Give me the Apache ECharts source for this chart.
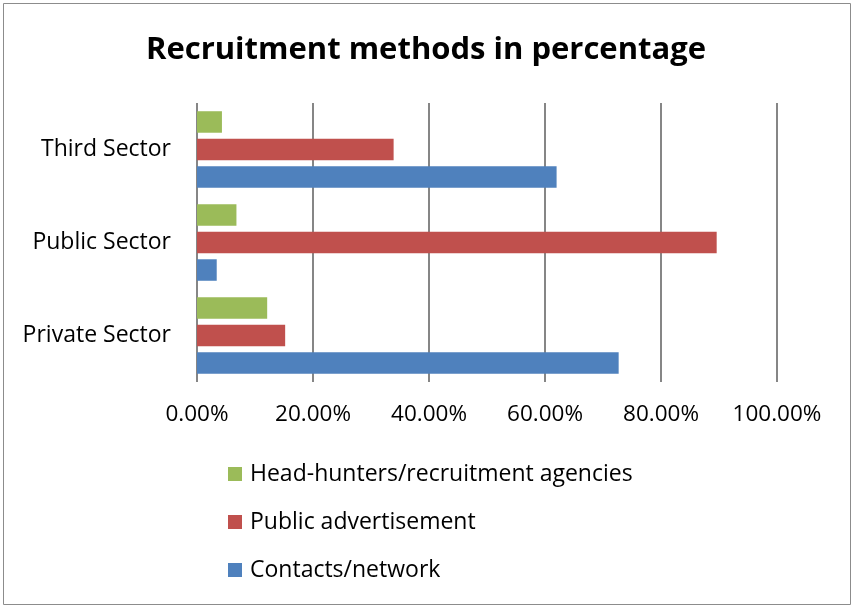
<!DOCTYPE html>
<html>
<head>
<meta charset="utf-8">
<script src="https://cdn.jsdelivr.net/npm/echarts@6/dist/echarts.min.js"></script>
<style>
  html, body { margin: 0; padding: 0; background: #fff; }
  #chart { width: 852px; height: 606px; }
</style>
</head>
<body>
<div id="chart"></div>
<script>
// Sectors, bottom to top on the category axis
const sectors = ['Private Sector', 'Public Sector', 'Third Sector'];

// Share of each recruitment method, in percent
const contactsNetwork = [72.7, 3.4, 62.0];
const publicAdvertisement = [15.2, 89.6, 33.9];
const headHunters = [12.1, 6.8, 4.3];

const seriesNames = [
  'Head-hunters/recruitment agencies',
  'Public advertisement',
  'Contacts/network'
];

const xTicks = { min: 0, max: 100, interval: 20 };

const fontFamily = '"Open Sans", sans-serif';

const chart = echarts.init(document.getElementById('chart'), null, { renderer: 'canvas' });

chart.setOption({
  backgroundColor: '#ffffff',
  animation: false,
  title: {
    text: 'Recruitment methods in percentage',
    left: 'center',
    top: 30,
    textStyle: { fontFamily, fontWeight: 'bold', fontSize: 31, color: '#000' }
  },
  graphic: [{
    type: 'rect',
    shape: { x: 3.5, y: 3.5, width: 847, height: 601 },
    style: { fill: 'none', stroke: '#8c8c8c', lineWidth: 1 },
    silent: true
  }],
  grid: { left: 197, right: 75, top: 103, bottom: 224, containLabel: false },
  xAxis: {
    type: 'value',
    min: xTicks.min,
    max: xTicks.max,
    interval: xTicks.interval,
    axisLine: { show: false },
    axisTick: { show: false },
    splitLine: { show: true, lineStyle: { color: '#868686', width: 2 } },
    axisLabel: {
      margin: 21,
      fontFamily,
      fontSize: 22.5,
      color: '#000',
      formatter: v => v.toFixed(2) + '%'
    }
  },
  yAxis: {
    type: 'category',
    data: sectors,
    axisLine: { show: false },
    axisTick: { show: false },
    axisLabel: { margin: 26, fontFamily, fontSize: 23, color: '#000' }
  },
  legend: {
    orient: 'vertical',
    left: 228,
    top: 461,
    padding: 0,
    itemWidth: 14,
    itemHeight: 14,
    itemGap: 22,
    icon: 'rect',
    data: seriesNames,
    textStyle: { fontFamily, fontSize: 23, color: '#000', lineHeight: 26, padding: [0, 0, 0, 3] }
  },
  // Within each sector the first series sits on top
  series: [
    {
      name: seriesNames[0], type: 'bar', data: headHunters,
      barWidth: 21.5, barGap: '28%',
      itemStyle: { color: '#9BBB59' }
    },
    {
      name: seriesNames[1], type: 'bar', data: publicAdvertisement,
      barWidth: 21.5, barGap: '28%',
      itemStyle: { color: '#C0504D' }
    },
    {
      name: seriesNames[2], type: 'bar', data: contactsNetwork,
      barWidth: 21.5, barGap: '28%',
      itemStyle: { color: '#4F81BD' }
    }
  ]
});
</script>
</body>
</html>
